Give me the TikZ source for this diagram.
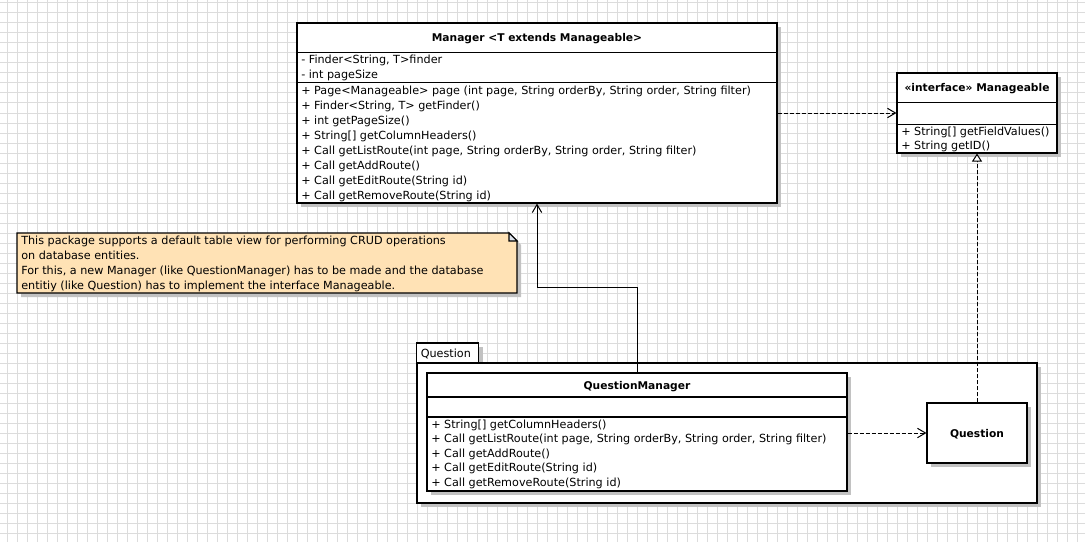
\documentclass[tikz,border=0pt]{standalone}
\usepackage{fontspec}
\setmainfont{DejaVu Sans}
\usetikzlibrary{arrows.meta,shadows,calc}
\definecolor{gridc}{HTML}{DCDCDC}
\definecolor{notefill}{HTML}{FFE2B5}
\definecolor{foldfill}{HTML}{DDE3EC}
\definecolor{shadc}{HTML}{C2C2C2}
\begin{document}
\begin{tikzpicture}[x=0.75pt,y=-0.75pt,
  txt/.style={font=\fontsize{8.4}{9}\selectfont, inner sep=0, anchor=base west},
  hdr/.style={font=\fontsize{8}{9}\selectfont\bfseries, inner sep=0, anchor=base},
  shad/.style={drop shadow={shadow xshift=3pt,shadow yshift=-3pt,fill=shadc,opacity=1}},
  umlbox/.style={draw=black, line width=0.8pt, fill=white, shad, inner sep=0, rectangle},
  sect/.style={draw=black, line width=0.8pt},
  dep/.style={draw=black, line width=0.75pt, dash pattern=on 3pt off 1.5pt, -{Straight Barb[length=6pt,width=7pt]}},
  inh/.style={draw=black, line width=0.75pt, -{Straight Barb[length=6pt,width=7pt]}},
  real/.style={draw=black, line width=0.75pt, dash pattern=on 3pt off 1.5pt, -{Triangle[length=6pt,width=7.5pt,fill=white]}}]
\useasboundingbox (0,0) rectangle (1085,542);
% background grid
\fill[white] (0,0) rectangle (1085,542);
\foreach \x in {7,17,...,1077} \draw[gridc, line width=0.75pt] (\x,0) -- (\x,542);
\foreach \y in {3,13,...,533} \draw[gridc, line width=0.75pt] (0,\y) -- (1085,\y);

% Manager class
\node[umlbox, minimum width=360pt, minimum height=135pt] (manager) at (537,113) {};
\draw[sect] ($(manager.north west)+(0,30)$) -- ($(manager.north east)+(0,30)$);
\draw[sect] ($(manager.north west)+(0,60)$) -- ($(manager.north east)+(0,60)$);
\node[hdr] (managerT) at (537,42) {Manager <T extends Manageable>};
\node[txt] (ma1) at (301,64) {- Finder<String, T>finder};
\node[txt] (ma2) at (301,79) {- int pageSize};
\foreach [count=\i] \t in {
  {+ Page<Manageable> page (int page, String orderBy, String order, String filter)},
  {+ Finder<String, T> getFinder()},
  {+ int getPageSize()},
  {+ String[] getColumnHeaders()},
  {+ Call getListRoute(int page, String orderBy, String order, String filter)},
  {+ Call getAddRoute()},
  {+ Call getEditRoute(String id)},
  {+ Call getRemoveRoute(String id)}}
  \node[txt] (mop\i) at (301,{94.5+15*(\i-1)}) {\t};

% Manageable interface
\node[umlbox, minimum width=120pt, minimum height=60pt] (manageable) at (977,113) {};
\draw[sect] ($(manageable.north west)+(0,30)$) -- ($(manageable.north east)+(0,30)$);
\draw[sect] ($(manageable.north west)+(0,52)$) -- ($(manageable.north east)+(0,52)$);
\node[hdr] (manageableT) at (977,91.5) {«interface» Manageable};
\node[txt] (mg1) at (901,135) {+ String[] getFieldValues()};
\node[txt] (mg2) at (901,149.5) {+ String getID()};

% Note
\path[shad, draw=black, line width=0.8pt, fill=notefill] (17,233) -- (509,233) -- (517,241) -- (517,293) -- (17,293) -- cycle;
\draw[fill=foldfill, line width=0.8pt] (509,233) -- (509,241) -- (517,241) -- cycle;
\node[txt] (note1) at (21,244) {This package supports a default table view for performing CRUD operations};
\node[txt] (note2) at (21,259.2) {on database entities.};
\node[txt] (note3) at (21,274.4) {For this, a new Manager (like QuestionManager) has to be made and the database};
\node[txt] (note4) at (21,289.6) {entitiy (like Question) has to implement the interface Manageable.};

% Package Question
\node[umlbox, minimum width=46.5pt, minimum height=15pt] (pkgtab) at (447.5,353) {};
\node[txt] (pkgtabT) at (420.5,357) {Question};
\node[umlbox, minimum width=465pt, minimum height=105pt] (pkg) at (727,433) {};

% QuestionManager
\node[umlbox, minimum width=315pt, minimum height=88.5pt] (qm) at (637,432) {};
\draw[sect] ($(qm.north west)+(0,24.5)$) -- ($(qm.north east)+(0,24.5)$);
\draw[sect] ($(qm.north west)+(0,44.5)$) -- ($(qm.north east)+(0,44.5)$);
\node[hdr] (qmT) at (637,389) {QuestionManager};
\foreach [count=\i] \t in {
  {+ String[] getColumnHeaders()},
  {+ Call getListRoute(int page, String orderBy, String order, String filter)},
  {+ Call getAddRoute()},
  {+ Call getEditRoute(String id)},
  {+ Call getRemoveRoute(String id)}}
  \node[txt] (qop\i) at (431,{428+14.6*(\i-1)}) {\t};

% Question entity
\node[umlbox, minimum width=75pt, minimum height=45pt] (question) at (977,433) {};
\node[hdr] (questionT) at (977,437) {Question};

% connectors
\draw[dep] (manager.east) -- (manageable.west);
\draw[dep] (qm.east |- question.west) -- (question.west);
\draw[inh] (qm.north) -- ++(0,-85) -| (manager.south);
\draw[real] (question.north) -- (manageable.south);
\end{tikzpicture}
\end{document}
